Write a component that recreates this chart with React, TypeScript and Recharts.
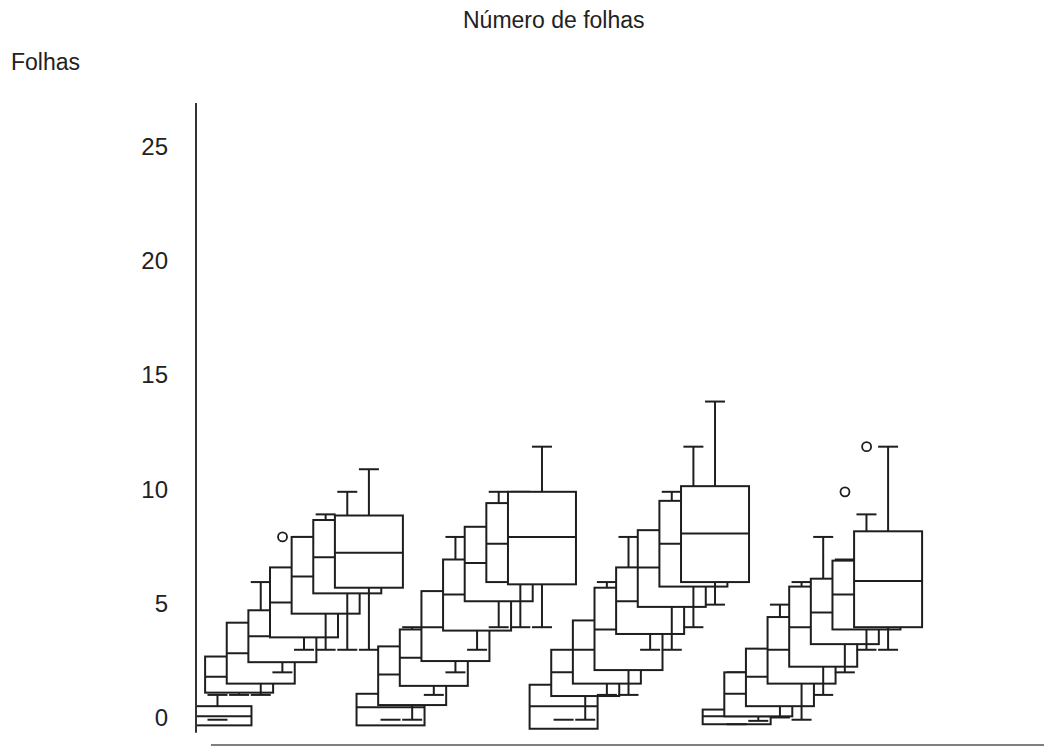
import React from 'react';
import { ComposedChart, Bar, Scatter, XAxis, YAxis, ReferenceLine } from 'recharts';

// 4 tratamentos, 8 avaliações cada: [mínimo, Q1, mediana, Q3, máximo]
const tratamentos = ['T1', 'T2', 'T3', 'T4'];

const folhasT1 = [
  [-0.1, -0.35, 0.05, 0.5, 1],
  [1, 1.1, 1.8, 2.7, 3.5],
  [1, 1.5, 2.85, 4.2, 6],
  [2, 2.45, 3.6, 4.75, 5.5],
  [3, 3.55, 5.1, 6.65, 8],
  [3, 4.6, 6.25, 8, 9],
  [3, 5.5, 7.1, 8.75, 10],
  [3, 5.75, 7.3, 8.95, 11],
];
const folhasT2 = [
  [-0.1, -0.35, 0.45, 1.05, 2],
  [-0.1, 0.55, 1.9, 3.15, 4],
  [1, 1.4, 2.65, 3.9, 5],
  [2, 2.5, 4, 5.6, 8],
  [3, 3.85, 5.45, 7, 7.5],
  [4, 5.15, 6.85, 8.45, 10],
  [4, 6, 7.7, 9.5, 10],
  [4, 5.9, 8, 10, 12],
];
const folhasT3 = [
  [-0.1, -0.5, 0.5, 1.45, 2],
  [-0.1, 0.95, 2, 3, 4],
  [1, 1.5, 3, 4.3, 6],
  [1, 2.1, 3.9, 5.75, 8],
  [3, 3.7, 5.15, 6.65, 8],
  [3, 4.9, 6.65, 8.3, 10],
  [4, 5.8, 7.7, 9.6, 12],
  [5, 6, 8.15, 10.25, 14],
];
const folhasT4 = [
  [-0.3, -0.3, 0.05, 0.35, 2],
  [-0.15, 0.05, 1.05, 2, 2.5],
  [0, 0.5, 1.8, 3.05, 5],
  [-0.1, 1.5, 3, 4.45, 6],
  [1, 2.25, 4, 5.8, 8],
  [2, 3.25, 4.65, 6.15, 7],
  [3, 3.9, 5.45, 6.95, 9],
  [3, 4, 6.05, 8.25, 12],
];

// valores atípicos: tratamento (índice), avaliação (1..8), folhas
const atipicos = [
  { tratamento: 0, avaliacao: 4, folhas: 8 },
  { tratamento: 3, avaliacao: 6, folhas: 10 },
  { tratamento: 3, avaliacao: 7, folhas: 12 },
];

const yTicks = [0, 5, 10, 15, 20, 25];

const series = [folhasT1, folhasT2, folhasT3, folhasT4];
const porTratamento = folhasT1.length;

const data = tratamentos.flatMap((t, g) =>
  series[g].map(([min, q1, mediana, q3, max], i) => ({
    pos: g * porTratamento + i + 1,
    tratamento: t,
    min,
    q1,
    mediana,
    q3,
    max,
    faixa: [Math.min(min, q1), Math.max(max, q3)],
  }))
);

const outlierData = atipicos.map((o) => ({
  pos: o.tratamento * porTratamento + o.avaliacao,
  folhas: o.folhas,
}));

const INK = '#1e1e1e';
const FONT = "'Liberation Sans', Arial, sans-serif";
const BOX_HALF = 34;
const CAP_HALF = 10;

function BoxShape(props: any) {
  const { x, y, width, height, payload } = props;
  if (!payload || x == null) return null;
  const [lo, hi] = payload.faixa;
  const py = (v: number) => y + ((hi - v) / (hi - lo)) * height;
  const cx = x + width / 2;
  const top = py(payload.q3);
  const bottom = py(payload.q1);
  const mid = py(payload.mediana);
  const yMin = py(payload.min);
  const yMax = py(payload.max);
  return (
    <g stroke={INK} strokeWidth={2} fill="none">
      <rect x={cx - BOX_HALF} y={top} width={BOX_HALF * 2} height={bottom - top} fill="#fff" />
      <line x1={cx - BOX_HALF} x2={cx + BOX_HALF} y1={mid} y2={mid} />
      {payload.min < payload.q1 && <line x1={cx} x2={cx} y1={bottom} y2={yMin} />}
      <line x1={cx - CAP_HALF} x2={cx + CAP_HALF} y1={yMin} y2={yMin} />
      {payload.max > payload.q3 && <line x1={cx} x2={cx} y1={top} y2={yMax} />}
      {payload.max > payload.q3 && (
        <line x1={cx - CAP_HALF} x2={cx + CAP_HALF} y1={yMax} y2={yMax} />
      )}
    </g>
  );
}

function OutlierShape(props: any) {
  const { cx, cy } = props;
  return <circle cx={cx} cy={cy} r={4.5} fill="#fff" stroke={INK} strokeWidth={1.8} />;
}

function YTick(props: any) {
  const { x, y, payload } = props;
  // the original labels sit a little above their ticks
  const nudge = -payload.value * 0.28;
  return (
    <text x={x} y={y + nudge} dy="0.355em" textAnchor="end" fill="#222" fontSize={24} fontFamily={FONT}>
      {payload.value}
    </text>
  );
}

export default function App() {
  return (
    <div style={{ position: 'absolute', left: 0, top: 0, width: 1044, height: 747, background: '#fff' }}>
      <div
        style={{
          position: 'absolute',
          left: 463,
          top: 9,
          fontFamily: FONT,
          fontSize: 23,
          lineHeight: '23px',
          color: '#222',
          whiteSpace: 'nowrap',
        }}
      >
        Número de folhas
      </div>
      <div
        style={{
          position: 'absolute',
          left: 11,
          top: 51,
          fontFamily: FONT,
          fontSize: 23,
          lineHeight: '23px',
          color: '#222',
        }}
      >
        Folhas
      </div>
      <ComposedChart
        width={1044}
        height={747}
        data={data}
        margin={{ top: 103, right: 0, bottom: 2, left: 136 }}
      >
        <XAxis dataKey="pos" type="number" domain={[0, 39.2]} allowDataOverflow hide />
        <YAxis
          type="number"
          domain={[-1.22, 27.23]}
          allowDataOverflow
          ticks={yTicks}
          width={60}
          axisLine={false}
          tickLine={false}
          tickSize={0}
          tickMargin={28}
          tick={<YTick />}
        />
        <ReferenceLine
          segment={[{ x: 0, y: -0.68 }, { x: 0, y: 27.23 }]}
          stroke="#333"
          strokeWidth={2}
        />
        <ReferenceLine
          segment={[{ x: 0.69, y: -1.22 }, { x: 39.2, y: -1.22 }]}
          stroke="#555"
          strokeWidth={1.5}
        />
        <Bar dataKey="faixa" shape={<BoxShape />} isAnimationActive={false} />
        <Scatter data={outlierData} dataKey="folhas" shape={<OutlierShape />} isAnimationActive={false} />
      </ComposedChart>
    </div>
  );
}
